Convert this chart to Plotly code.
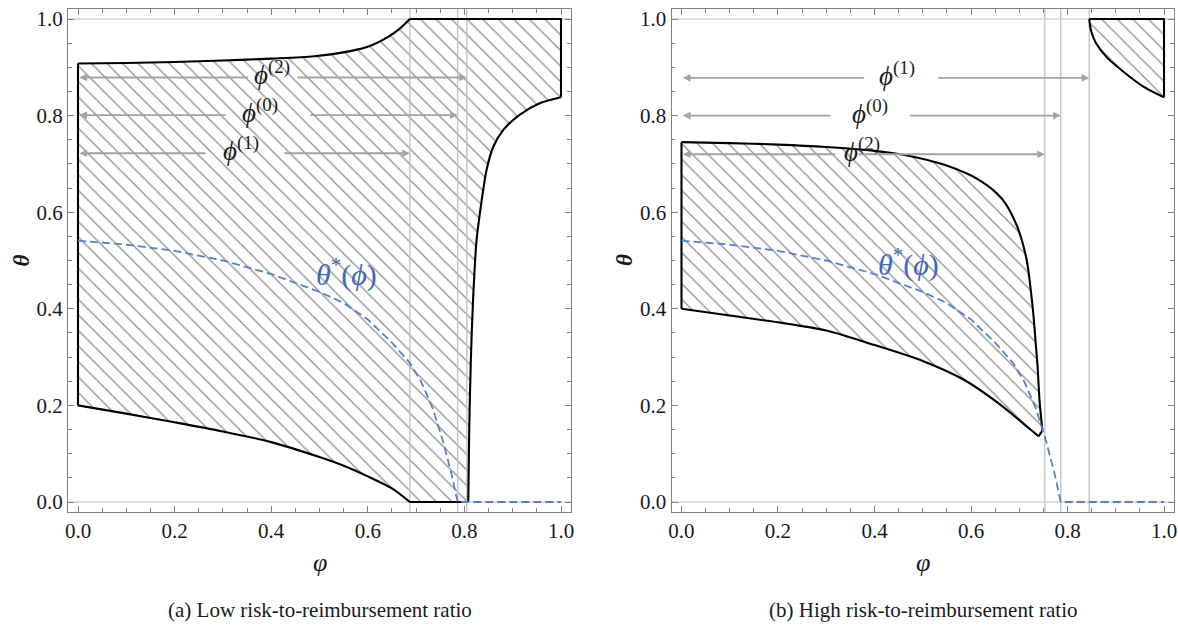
import plotly.graph_objects as go

# ---------------- data ----------------
# Panel (a): low risk-to-reimbursement ratio (boundary pieces, in order around the region)
a_left_x = [0.0, 0.0]
a_left_y = [0.2, 0.908]
a_upper_x = [0.0, 0.1, 0.2, 0.3, 0.4, 0.489, 0.566, 0.604, 0.642, 0.665, 0.687]
a_upper_y = [0.908, 0.909, 0.911, 0.914, 0.918, 0.923, 0.934, 0.944, 0.963, 0.979, 1.0]
a_top_x = [0.687, 1.0, 1.0]
a_top_y = [1.0, 1.0, 0.838]
a_right_x = [1.0, 0.957, 0.915, 0.881, 0.860, 0.846, 0.836, 0.825, 0.818, 0.8135, 0.810, 0.808]
a_right_y = [0.838, 0.826, 0.802, 0.771, 0.736, 0.688, 0.626, 0.54, 0.42, 0.3, 0.15, 0.0]
a_bottom_x = [0.808, 0.687]
a_bottom_y = [0.0, 0.0]
a_lower_x = [0.687, 0.65, 0.6, 0.55, 0.5, 0.4, 0.3, 0.2, 0.1, 0.0]
a_lower_y = [0.0, 0.028, 0.053, 0.075, 0.093, 0.124, 0.146, 0.165, 0.183, 0.2]

# Panel (b): high risk-to-reimbursement ratio
b_left_x = [0.0, 0.0]
b_left_y = [0.4, 0.745]
b_upper_x = [0.0, 0.1, 0.2, 0.3, 0.4, 0.47, 0.548, 0.618, 0.664, 0.695, 0.715, 0.726,
             0.730, 0.734, 0.738, 0.742, 0.748]
b_upper_y = [0.745, 0.743, 0.740, 0.735, 0.727, 0.717, 0.697, 0.666, 0.628, 0.572, 0.503, 0.42,
             0.38, 0.33, 0.28, 0.21, 0.148]
b_tip_x = [0.748, 0.740]
b_tip_y = [0.148, 0.136]
b_lower_x = [0.740, 0.703, 0.664, 0.587, 0.5, 0.4, 0.3, 0.2, 0.1, 0.0]
b_lower_y = [0.136, 0.167, 0.199, 0.252, 0.292, 0.325, 0.355, 0.372, 0.386, 0.4]
b_cap_edge_x = [0.845, 1.0, 1.0]
b_cap_edge_y = [1.0, 1.0, 0.838]
b_cap_curve_x = [1.0, 0.959, 0.912, 0.881, 0.858, 0.849, 0.845]
b_cap_curve_y = [0.838, 0.859, 0.894, 0.921, 0.952, 0.975, 1.0]

# theta*(phi), same in both panels
theta_star_x = [0.0, 0.1, 0.2, 0.3, 0.4, 0.5, 0.55, 0.6, 0.65, 0.687, 0.71, 0.734, 0.756, 0.774, 0.786, 1.0]
theta_star_y = [0.541, 0.533, 0.52, 0.5, 0.472, 0.435, 0.412, 0.378, 0.33, 0.288, 0.25, 0.195, 0.125, 0.055, 0.0, 0.0]

# thresholds phi^(k)
a_phi = {"1": 0.687, "0": 0.786, "2": 0.805}
b_phi = {"2": 0.753, "0": 0.786, "1": 0.845}

# arrow rows: (label, level, gap_left, gap_right, label_x)
a_arrows = [("2", 0.879, 0.355, 0.451, 0.401),
            ("0", 0.801, 0.309, 0.478, 0.377),
            ("1", 0.722, 0.267, 0.424, 0.337)]
b_arrows = [("1", 0.878, 0.381, 0.529, 0.447),
            ("0", 0.800, 0.312, 0.470, 0.390),
            ("2", 0.720, 0.322, 0.364, 0.374)]

tick_vals = [0.0, 0.2, 0.4, 0.6, 0.8, 1.0]
tick_text = ["0.0", "0.2", "0.4", "0.6", "0.8", "1.0"]
captions = ["(a) Low risk-to-reimbursement ratio", "(b) High risk-to-reimbursement ratio"]

# ---------------- style ----------------
SERIF = "Liberation Serif"
HATCH = dict(shape="\\", size=11, solidity=0.11, fgcolor="#8c8c8c", bgcolor="rgba(255,255,255,0)")
GRID = "#c4c4c4"
BLUE = "#5a80c4"
BLUE_TXT = "#4569b5"
ARROW = "#a3a3a3"
FRAME = "#808080"
INK = "#1a1a1a"

fig = go.Figure()


def add_panel(xa, ya, regions, phis, arrows, tlabel_pos):
    # hatched regions (linear outline of all pieces)
    for segs in regions:
        px, py = [], []
        for sx, sy, _ in segs:
            px += sx
            py += sy
        fig.add_trace(go.Scatter(x=px, y=py, xaxis=xa, yaxis=ya, mode="lines", fill="toself",
                                 fillcolor="rgba(0,0,0,0)", fillpattern=HATCH,
                                 line=dict(width=0), hoverinfo="skip", showlegend=False))
    # reference lines
    for v in phis.values():
        fig.add_trace(go.Scatter(x=[v, v], y=[-0.05, 1.05], xaxis=xa, yaxis=ya, mode="lines",
                                 line=dict(color=GRID, width=1.4), hoverinfo="skip", showlegend=False))
    for h in (0.0, 1.0):
        fig.add_trace(go.Scatter(x=[-0.05, 1.05], y=[h, h], xaxis=xa, yaxis=ya, mode="lines",
                                 line=dict(color="#d4d4d4", width=1.4), hoverinfo="skip", showlegend=False))
    # boundaries
    for segs in regions:
        for sx, sy, shp in segs:
            fig.add_trace(go.Scatter(x=sx, y=sy, xaxis=xa, yaxis=ya, mode="lines",
                                     line=dict(color="black", width=2.1, shape=shp, smoothing=0.8),
                                     hoverinfo="skip", showlegend=False))
    # theta*
    fig.add_trace(go.Scatter(x=theta_star_x, y=theta_star_y, xaxis=xa, yaxis=ya, mode="lines",
                             line=dict(color=BLUE, width=1.8, dash="8px,4px"),
                             hoverinfo="skip", showlegend=False))
    xr = "x" if xa == "x" else "x2"
    yr = "y" if ya == "y" else "y2"
    for lab, lev, gl, gr, lx in arrows:
        fig.add_annotation(xref=xr, yref=yr, axref=xr, ayref=yr, x=0.003, y=lev, ax=gl, ay=lev,
                           text="", showarrow=True, arrowhead=2, arrowsize=0.8, arrowwidth=1.9,
                           arrowcolor=ARROW, standoff=0, startstandoff=0)
        fig.add_annotation(xref=xr, yref=yr, axref=xr, ayref=yr, x=phis[lab], y=lev, ax=gr, ay=lev,
                           text="", showarrow=True, arrowhead=2, arrowsize=0.8, arrowwidth=1.9,
                           arrowcolor=ARROW, standoff=0, startstandoff=0)
        fig.add_annotation(xref=xr, yref=yr, x=lx, y=lev, yshift=4, showarrow=False,
                           xanchor="center", yanchor="middle",
                           text="<i>ϕ</i><sup>(" + lab + ")</sup>",
                           font=dict(family=SERIF, size=27, color=INK))
    fig.add_annotation(xref=xr, yref=yr, x=tlabel_pos[0], y=tlabel_pos[1], showarrow=False,
                       xanchor="center", yanchor="middle",
                       text="<i>θ</i><sup>*</sup>(<i>ϕ</i>)",
                       font=dict(family=SERIF, size=30, color=BLUE_TXT))


a_region = [(a_left_x, a_left_y, "linear"), (a_upper_x, a_upper_y, "spline"),
            (a_top_x, a_top_y, "linear"), (a_right_x, a_right_y, "spline"),
            (a_bottom_x, a_bottom_y, "linear"), (a_lower_x, a_lower_y, "spline")]
b_region = [(b_left_x, b_left_y, "linear"), (b_upper_x, b_upper_y, "spline"),
            (b_tip_x, b_tip_y, "linear"), (b_lower_x, b_lower_y, "spline")]
b_cap = [(b_cap_edge_x, b_cap_edge_y, "linear"), (b_cap_curve_x, b_cap_curve_y, "spline")]

add_panel("x", "y", [a_region], a_phi, a_arrows, (0.556, 0.476))
add_panel("x2", "y2", [b_region, b_cap], b_phi, b_arrows, (0.47, 0.496))

axis_common = dict(
    range=[-0.0207, 1.0207], showgrid=False, zeroline=False, showline=True,
    linecolor=FRAME, linewidth=1.2, mirror="allticks", ticks="inside", ticklen=6,
    tickwidth=1.1, tickcolor=FRAME, tickvals=tick_vals, ticktext=tick_text,
    tickfont=dict(family=SERIF, size=21, color=INK),
    minor=dict(tickvals=[i * 0.05 for i in range(21)], ticks="inside", ticklen=3.5,
               tickwidth=1, tickcolor=FRAME, showgrid=False),
    automargin=False, fixedrange=True,
)

fig.update_layout(
    width=1178, height=625, template="none",
    margin=dict(l=0, r=0, t=9, b=113),
    paper_bgcolor="white", plot_bgcolor="white", showlegend=False,
    xaxis=dict(domain=[68 / 1178, 571 / 1178], anchor="y", **axis_common),
    yaxis=dict(domain=[0, 1], anchor="x", **axis_common),
    xaxis2=dict(domain=[671.5 / 1178, 1174 / 1178], anchor="y2", **axis_common),
    yaxis2=dict(domain=[0, 1], anchor="x2", **axis_common),
)

# axis titles and captions (y paper: 0 at plot bottom 512px, 1 at 9px)
for cx, tx in ((319.5 / 1178, 21 / 1178), (923 / 1178, 624.5 / 1178)):
    fig.add_annotation(xref="paper", yref="paper", x=cx, y=-0.101, showarrow=False,
                       xanchor="center", yanchor="middle",
                       text="<i>φ</i>", font=dict(family=SERIF, size=26, color=INK))
    fig.add_annotation(xref="paper", yref="paper", x=tx, y=0.5, showarrow=False, textangle=-90,
                       xanchor="center", yanchor="middle",
                       text="<i><b>θ</b></i>", font=dict(family=SERIF, size=23, color=INK))
for cx, cap in zip((319.5 / 1178, 923 / 1178), captions):
    fig.add_annotation(xref="paper", yref="paper", x=cx, y=-0.195, showarrow=False,
                       xanchor="center", yanchor="middle",
                       text=cap, font=dict(family=SERIF, size=21, color=INK))

fig.write_html("out.html")
